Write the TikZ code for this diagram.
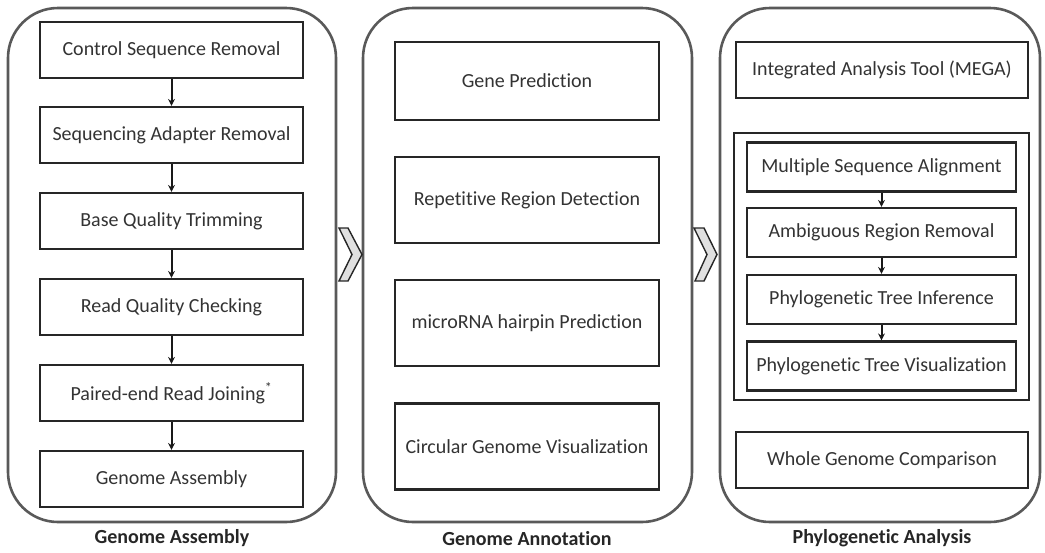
\documentclass[tikz,border=0pt]{standalone}
\usepackage{fontspec}
\setmainfont{Carlito}[Ligatures=NoCommon]
\usetikzlibrary{arrows.meta,fit}
\begin{document}
\begin{tikzpicture}[x=1pt,y=-1pt,
	panel/.style={draw=black!65,line width=2.6pt,rounded corners=50pt},
	stepbox/.style={draw=black!85,line width=2.2pt,inner sep=0pt,minimum width=263pt,minimum height=56pt,text=black!80,font=\fontsize{20}{23}\selectfont},
	annbox/.style={stepbox,minimum width=264pt,minimum height=86pt},
	phybox/.style={stepbox,minimum width=292pt},
	treebox/.style={stepbox,minimum width=269pt,minimum height=49pt},
	groupbox/.style={draw=black!85,line width=2.2pt,inner xsep=12pt,inner ysep=8.5pt},
	flow/.style={draw=black!90,line width=2pt,-{Stealth[length=7pt,width=7pt]}},
	chevron/.style={draw=black!85,line width=1.4pt,fill=black!12,line join=miter},
	caption/.style={font=\fontsize{20}{23}\selectfont\bfseries,text=black!85}
]
	\useasboundingbox (0,0) rectangle (1045,552);
	% panels
	\draw[panel] (8,8) rectangle (336,522);
	\draw[panel] (363,8) rectangle (692,522);
	\draw[panel] (720,8) rectangle (1040,522);
	% genome assembly
	\node[stepbox] (csr) at (171.5,50) {Control Sequence Removal};
	\node[stepbox] (sar) at (171.5,135) {Sequencing Adapter Removal};
	\node[stepbox] (bqt) at (171.5,221) {Base Quality Trimming};
	\node[stepbox] (rqc) at (171.5,307) {Read Quality Checking};
	\node[stepbox] (prj) at (171.5,393) {Paired-end Read Joining\textsuperscript{*}};
	\node[stepbox] (gas) at (171.5,479) {Genome Assembly};
	\draw[flow] (csr) -- (sar);
	\draw[flow] (sar) -- (bqt);
	\draw[flow] (bqt) -- (rqc);
	\draw[flow] (rqc) -- (prj);
	\draw[flow] (prj) -- (gas);
	% genome annotation
	\node[annbox,minimum height=78pt] (gpr) at (527,81) {Gene Prediction};
	\node[annbox] (rrd) at (527,200) {Repetitive Region Detection};
	\node[annbox] (mhp) at (527,323) {microRNA hairpin Prediction};
	\node[annbox] (cgv) at (527,446.5) {Circular Genome Visualization};
	% phylogenetic analysis
	\node[phybox] (mega) at (882,70) {Integrated Analysis Tool (MEGA)};
	\node[treebox] (msa) at (881.5,167) {Multiple Sequence Alignment};
	\node[treebox] (arr) at (881.5,232.5) {Ambiguous Region Removal};
	\node[treebox] (pti) at (881.5,299.5) {Phylogenetic Tree Inference};
	\node[treebox] (ptv) at (881.5,366) {Phylogenetic Tree Visualization};
	\node[groupbox,fit=(msa)(ptv)] (tree) {};
	\node[phybox] (wgc) at (882,460) {Whole Genome Comparison};
	\draw[flow] (msa) -- (arr);
	\draw[flow] (arr) -- (pti);
	\draw[flow] (pti) -- (ptv);
	% chevrons between panels
	\draw[chevron] (339,228) -- (348,228) -- (362,254.5) -- (348,281) -- (339,281) -- (352,254.5) -- cycle;
	\draw[chevron] (694,228) -- (704,228) -- (717,254.5) -- (704,281) -- (695,281) -- (707,254.5) -- cycle;
	% captions
	\node[caption] (capa) at (172,538) {Genome Assembly};
	\node[caption] (capb) at (527,539) {Genome Annotation};
	\node[caption] (capc) at (882,538) {Phylogenetic Analysis};
\end{tikzpicture}
\end{document}
